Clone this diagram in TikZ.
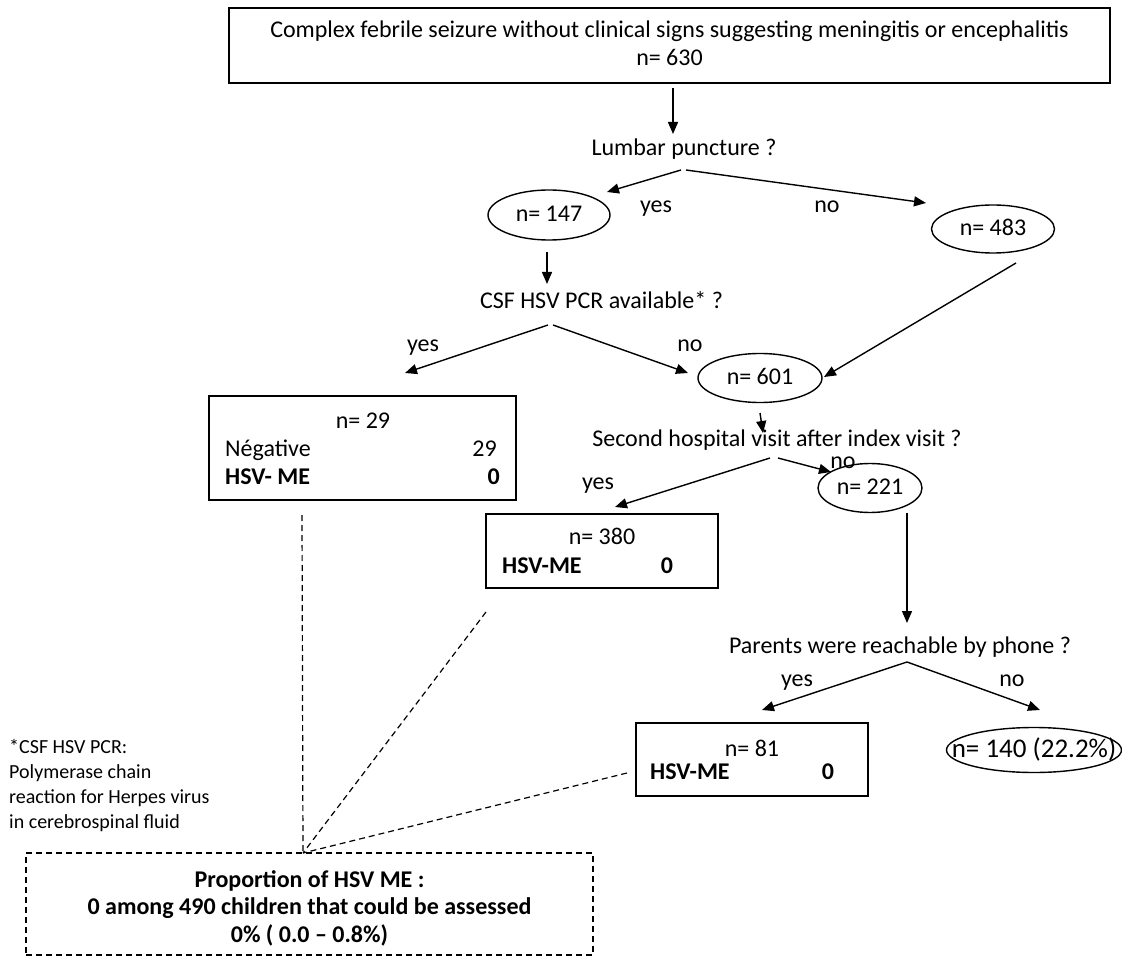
\documentclass[tikz,border=0pt]{standalone}
\usepackage{fontspec}
\setmainfont{Carlito}
\usetikzlibrary{arrows.meta,shapes.geometric}
\begin{document}
\begin{tikzpicture}[x=1pt,y=-1pt,
  every node/.style={font=\fontsize{24}{28}\selectfont, inner sep=0pt},
  lbl/.style={text height=17pt, text depth=4pt},
  fnote/.style={font=\fontsize{20}{25}\selectfont, text height=14pt, text depth=3.5pt, anchor=west},
  bx/.style={draw, line width=1.4pt},
  dbox/.style={draw, line width=1.2pt, dash pattern=on 6pt off 4pt},
  oval/.style={draw, ellipse, line width=1.4pt, lbl},
  arr/.style={line width=1.4pt, -{Triangle[length=12pt,width=10pt]}},
  dsh/.style={line width=1.2pt, dash pattern=on 6pt off 4pt},
  bld/.style={font=\fontsize{24}{28}\selectfont\bfseries, lbl},
]
\useasboundingbox (0,0) rectangle (1122,957);

% ---------- top box ----------
\node[bx, minimum width=881, minimum height=75] (top) at (669.5,45.5) {};
\node[align=center] (toptxt) at (669.5,43) {Complex febrile seizure without clinical signs suggesting meningitis or encephalitis\\ n= 630};

% ---------- first question ----------
\node[lbl] (lp) at (684,149) {Lumbar puncture ?};
\node[lbl] (yes1) at (656,206) {yes};
\node[lbl] (no1) at (827,206) {no};
\node[oval, minimum width=122, minimum height=50] (e147) at (549,215) {n= 147};
\node[oval, minimum width=123, minimum height=48] (e483) at (993,229) {n= 483};

% ---------- CSF question ----------
\node[lbl] (csf) at (601.5,302) {CSF HSV PCR available* ?};
\node[lbl] (yes2) at (423,345) {yes};
\node[lbl] (no2) at (690,345) {no};
\node[oval, minimum width=124, minimum height=49] (e601) at (760,378) {n= 601};

% ---------- box n=29 ----------
\node[bx, minimum width=307, minimum height=104] (b29) at (362.5,448) {};
\node[lbl] (b29n) at (363,422) {n= 29};
\node[lbl, anchor=west] (b29neg) at (225,450) {Négative};
\node[lbl, anchor=east] (b29negv) at (497,450) {29};
\node[bld, anchor=west] (b29me) at (225,478) {HSV- ME};
\node[bld, anchor=east] (b29mev) at (500,478) {0};

% ---------- second hospital visit ----------
\node[lbl] (shv) at (777,440) {Second hospital visit after index visit ?};
\node[lbl] (yes3) at (598,483) {yes};
\node[lbl] (no3) at (843,462) {no};
\node[oval, minimum width=104, minimum height=49] (e221) at (870,488) {n= 221};

% ---------- box n=380 ----------
\node[bx, minimum width=232, minimum height=74] (b380) at (602,551) {};
\node[lbl] (b380n) at (602,538) {n= 380};
\node[bld, anchor=west] (b380me) at (502,567) {HSV-ME};
\node[bld] (b380mev) at (667,567) {0};

% ---------- parents question ----------
\node[lbl] (par) at (900,647) {Parents were reachable by phone ?};
\node[lbl] (yes4) at (797,680) {yes};
\node[lbl] (no4) at (1012,680) {no};

% ---------- box n=81 ----------
\node[bx, minimum width=232, minimum height=73] (b81) at (752,759.5) {};
\node[lbl] (b81n) at (752,750) {n= 81};
\node[bld, anchor=west] (b81me) at (650,773) {HSV-ME};
\node[bld] (b81mev) at (828,773) {0};

% ---------- ellipse n=140 ----------
\node[oval, minimum width=175, minimum height=45] (e140) at (1034,750) {};
\node[font=\fontsize{27}{30}\selectfont, text height=19pt, text depth=4.5pt] (e140t) at (1034,750) {n= 140 (22.2\%)};

% ---------- footnote ----------
\node[fnote] (fn1) at (9,748) {*CSF HSV PCR:};
\node[fnote] (fn2) at (9,773) {Polymerase chain};
\node[fnote] (fn3) at (9,798) {reaction for Herpes virus};
\node[fnote] (fn4) at (9,823) {in cerebrospinal fluid};

% ---------- bottom dashed box ----------
\node[dbox, minimum width=567, minimum height=102] (bot) at (309.5,904) {};
\node[align=center, font=\fontsize{24}{27.5}\selectfont\bfseries] (bottxt) at (309.5,908)
  {Proportion of HSV ME :\\ 0 among 490 children that could be assessed\\ 0\% ( 0.0 -- 0.8\%)};

% ---------- connector end points ----------
\coordinate (topS) at (673,88);
\coordinate (lpN) at (673,134);
\coordinate (lpL) at (681,170);
\coordinate (lpR) at (686,170);
\coordinate (e147T) at (607,192);
\coordinate (e483T) at (926,203);
\coordinate (e147S) at (547,252);
\coordinate (csfN) at (547,284);
\coordinate (csfL) at (548,325);
\coordinate (csfR) at (553,325);
\coordinate (b29T) at (405,373);
\coordinate (e601T) at (688,373);
\coordinate (e483S) at (1016,263);
\coordinate (e601R) at (824,377);
\coordinate (e601S) at (760,413);
\coordinate (shvN) at (763,433);
\coordinate (shvL) at (770,458);
\coordinate (shvR) at (778,458);
\coordinate (b380T) at (615,507);
\coordinate (e221T) at (831,472);
\coordinate (e221S) at (907,513);
\coordinate (parN) at (907,623);
\coordinate (parS) at (907,662);
\coordinate (b81T) at (762,710);
\coordinate (e140T) at (1040,710);
\coordinate (b29S) at (302,515);
\coordinate (b380S) at (486,612);
\coordinate (b81W) at (627,773);
\coordinate (botN) at (303,853);

% ---------- arrows ----------
\draw[arr] (topS) -- (lpN);
\draw[arr] (lpL) -- (e147T);
\draw[arr] (lpR) -- (e483T);
\draw[arr] (e147S) -- (csfN);
\draw[arr] (csfL) -- (b29T);
\draw[arr] (csfR) -- (e601T);
\draw[arr] (e483S) -- (e601R);
\draw[arr] (e601S) -- (shvN);
\draw[arr] (shvL) -- (b380T);
\draw[arr] (shvR) -- (e221T);
\draw[arr] (e221S) -- (parN);
\draw[arr] (parS) -- (b81T);
\draw[arr] (parS) -- (e140T);

% ---------- dashed lines ----------
\draw[dsh] (b29S) -- (botN);
\draw[dsh] (b380S) -- (botN);
\draw[dsh] (b81W) -- (botN);
\end{tikzpicture}
\end{document}
